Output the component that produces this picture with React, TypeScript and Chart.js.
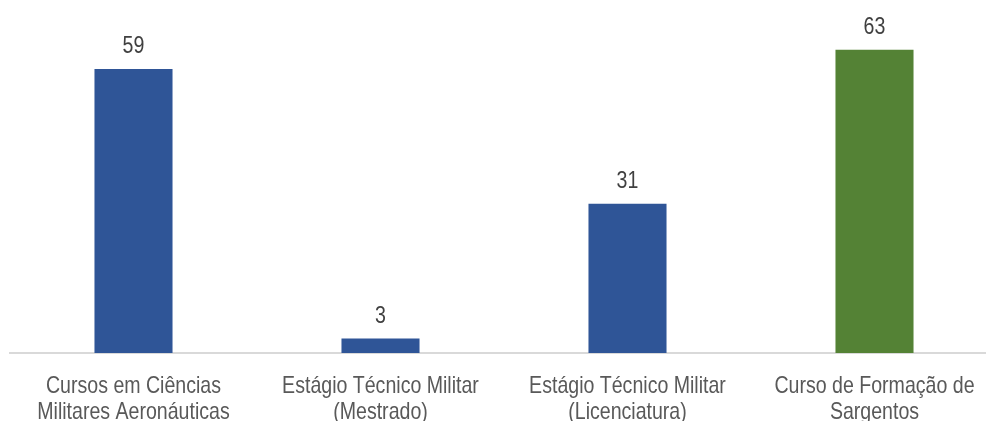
import React, { useEffect, useRef } from "react";
import { Chart, registerables } from "chart.js";

Chart.register(...registerables);

const categories: string[][] = [
  ["Cursos em Ciências", "Militares Aeronáuticas"],
  ["Estágio Técnico Militar", "(Mestrado)"],
  ["Estágio Técnico Militar", "(Licenciatura)"],
  ["Curso de Formação de", "Sargentos"],
];
const values: number[] = [59, 3, 31, 63];
const barColors: string[] = ["#2F5597", "#2F5597", "#2F5597", "#548235"];

const FONT = "'Liberation Sans', Arial, sans-serif";
const NARROW = 0.815;

function narrowText(ctx: CanvasRenderingContext2D, text: string, x: number, y: number) {
  ctx.save();
  ctx.translate(x, y);
  ctx.scale(NARROW, 1);
  ctx.fillText(text, 0, 0);
  ctx.restore();
}

const textPlugin = {
  id: "textPlugin",
  afterDatasetsDraw(chart: any) {
    const ctx = chart.ctx as CanvasRenderingContext2D;
    const meta = chart.getDatasetMeta(0);
    const xScale = chart.scales.x;
    ctx.save();
    ctx.font = `24px ${FONT}`;
    ctx.textAlign = "center";
    ctx.textBaseline = "alphabetic";
    ctx.fillStyle = "#404040";
    meta.data.forEach((bar: any, i: number) => {
      narrowText(ctx, String(values[i]), bar.x, bar.y - 16);
    });
    ctx.fillStyle = "#595959";
    const base = chart.chartArea.bottom;
    categories.forEach((lines, i) => {
      const x = xScale.getPixelForTick(i);
      lines.forEach((line, j) => {
        narrowText(ctx, line, x, base + 39.5 + j * 26);
      });
    });
    ctx.restore();
  },
};

export default function App() {
  const ref = useRef<HTMLCanvasElement>(null);
  useEffect(() => {
    if (!ref.current) return;
    const chart = new Chart(ref.current, {
      type: "bar",
      data: {
        labels: categories.map((c) => c.join(" ")),
        datasets: [
          {
            data: values,
            backgroundColor: barColors,
            categoryPercentage: 1,
            barPercentage: 0.316,
          },
        ],
      },
      options: {
        responsive: false,
        animation: false,
        layout: { autoPadding: false, padding: { left: 10, right: 2, top: 16, bottom: 0 } },
        plugins: { legend: { display: false }, tooltip: { enabled: false } },
        scales: {
          x: {
            grid: { display: false },
            border: { display: true, color: "#D9D9D9", width: 2 },
            ticks: { display: false },
            afterFit: (scale: any) => {
              scale.height = 68;
            },
          },
          y: {
            display: false,
            min: 0,
            max: 70,
          },
        },
      },
      plugins: [textPlugin],
    });
    return () => chart.destroy();
  }, []);
  return (
    <div style={{ position: "fixed", left: 0, top: 0, width: 986, height: 421, overflow: "hidden", background: "#fff" }}>
      <canvas ref={ref} width={1000} height={421} style={{ width: 1000, height: 421, display: "block" }} />
    </div>
  );
}
